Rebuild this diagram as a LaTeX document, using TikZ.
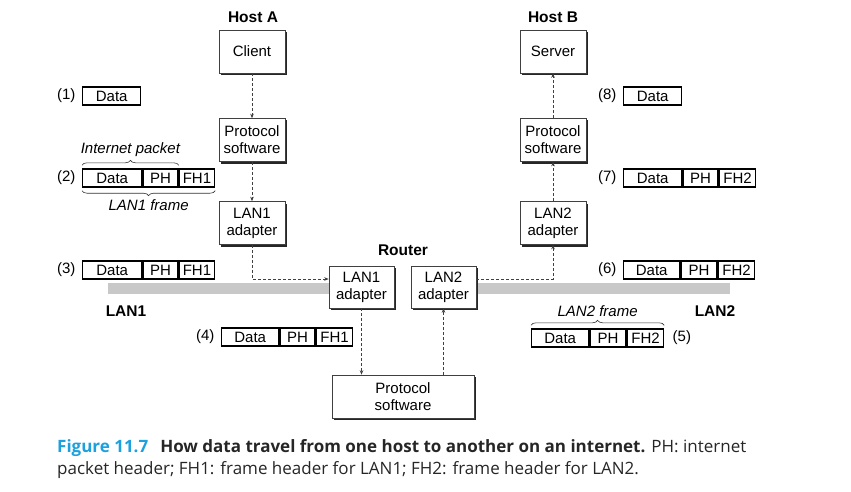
\documentclass[tikz,border=0pt]{standalone}
\usepackage{fontspec}
\setmainfont{Liberation Sans}
\newfontfamily\capfont{Open Sans}
\usetikzlibrary{arrows.meta,shadows,decorations.pathreplacing,calc}
\definecolor{figblue}{RGB}{28,160,222}
\definecolor{bargray}{RGB}{200,200,200}
\begin{document}
\begin{tikzpicture}[x=1pt,y=-1pt,
  every node/.style={font=\fontsize{15}{17}\selectfont},
  box/.style={draw=black!75, line width=0.6pt, fill=white, align=center, inner sep=1pt,
    minimum width=66, minimum height=43,
    drop shadow={shadow xshift=2pt,shadow yshift=-2pt,fill=black!85,opacity=1}},
  cell/.style={draw=black, line width=1.4pt, inner sep=0pt, minimum height=18, anchor=west},
  flow/.style={draw=black!75, line width=0.6pt, dash pattern=on 3pt off 2pt,
    -{Stealth[length=4.5pt,width=3.5pt]}},
  hdr/.style={font=\fontsize{15.5}{17}\selectfont\bfseries},
  brc/.style={draw=black!80, line width=0.6pt, decorate, decoration={brace,amplitude=5pt}},
  lbl/.style={font=\fontsize{15}{17}\selectfont\itshape}
]
\useasboundingbox (0,0) rectangle (851,492);

% LAN bars
\fill[bargray] (108,283) rectangle (329,294);
\fill[bargray] (476,283) rectangle (730,294);
\node[hdr] (lan1lbl) at (126,311) {LAN1};
\node[hdr] (lan2lbl) at (715,311) {LAN2};

% Host A
\node[hdr] (hosta) at (253,17) {Host A};
\node[box] (client) at (252,51.5) {Client};
\node[box] (protoa) at (252,140) {Protocol\\software};
\node[box] (lana) at (252,223) {LAN1\\adapter};

% Host B
\node[hdr] (hostb) at (553,17) {Host B};
\node[box] (server) at (553,51.5) {Server};
\node[box] (protob) at (553,140) {Protocol\\software};
\node[box] (lanb) at (553,223) {LAN2\\adapter};

% Router
\node[hdr] (router) at (403,250) {Router};
\node[box, minimum width=65, minimum height=42] (rlan1) at (361.5,287) {LAN1\\adapter};
\node[box, minimum width=65, minimum height=42] (rlan2) at (443.5,287) {LAN2\\adapter};
\node[box, minimum width=142, minimum height=43] (rproto) at (403,396.5) {Protocol\\software};

% flows
\draw[flow] (client) -- (protoa);
\draw[flow] (protoa) -- (lana);
\draw[flow] (lana.south) |- ([yshift=8pt]rlan1.west);
\draw[flow] (rlan1.south) -- (rlan1.south |- rproto.north);
\draw[flow] (rlan2.south |- rproto.north) -- (rlan2.south);
\draw[flow] ([yshift=8pt]rlan2.east) -| (lanb.south);
\draw[flow] (lanb) -- (protob);
\draw[flow] (protob) -- (server);

% (1)
\node[cell, minimum width=58] (p1d) at (82,96) {Data};
\node[anchor=east] (n1) at ([xshift=-3pt]p1d.west) {(1)};
% (2)
\node[cell, minimum width=59] (p2d) at (82,178) {Data};
\node[cell, minimum width=35] (p2p) at (p2d.east) {PH};
\node[cell, minimum width=35] (p2f) at (p2p.east) {FH1};
\node[anchor=east] (n2) at ([xshift=-3pt]p2d.west) {(2)};
\draw[brc] ([yshift=3pt]p2d.north west) -- ([yshift=3pt]p2p.north east)
  node[midway, above=5pt, lbl] (ipk) {Internet packet};
\draw[brc] ([yshift=-3pt]p2f.south east) -- ([yshift=-3pt]p2d.south west)
  node[midway, below=5pt, lbl] (l1f) {LAN1 frame};
% (3)
\node[cell, minimum width=59] (p3d) at (82,270) {Data};
\node[cell, minimum width=35] (p3p) at (p3d.east) {PH};
\node[cell, minimum width=35] (p3f) at (p3p.east) {FH1};
\node[anchor=east] (n3) at ([xshift=-3pt]p3d.west) {(3)};
% (4)
\node[cell, minimum width=57] (p4d) at (221,337) {Data};
\node[cell, minimum width=35] (p4p) at (p4d.east) {PH};
\node[cell, minimum width=36] (p4f) at (p4p.east) {FH1};
\node[anchor=east] (n4) at ([xshift=-3pt]p4d.west) {(4)};
% (5)
\node[cell, minimum width=57] (p5d) at (531,338) {Data};
\node[cell, minimum width=36] (p5p) at (p5d.east) {PH};
\node[cell, minimum width=36] (p5f) at (p5p.east) {FH2};
\node[anchor=west] (n5) at ([xshift=5pt]p5f.east) {(5)};
\draw[brc] ([yshift=3pt]p5d.north west) -- ([yshift=3pt]p5f.north east)
  node[midway, above=5pt, lbl] (l2f) {LAN2 frame};
% (6)
\node[cell, minimum width=56] (p6d) at (623,270) {Data};
\node[cell, minimum width=36] (p6p) at (p6d.east) {PH};
\node[cell, minimum width=36] (p6f) at (p6p.east) {FH2};
\node[anchor=east] (n6) at ([xshift=-3pt]p6d.west) {(6)};
% (7)
\node[cell, minimum width=58] (p7d) at (623,178) {Data};
\node[cell, minimum width=35] (p7p) at (p7d.east) {PH};
\node[cell, minimum width=36] (p7f) at (p7p.east) {FH2};
\node[anchor=east] (n7) at ([xshift=-3pt]p7d.west) {(7)};
% (8)
\node[cell, minimum width=58] (p8d) at (623,96) {Data};
\node[anchor=east] (n8) at ([xshift=-3pt]p8d.west) {(8)};

% caption
\node[anchor=base west, inner sep=0pt, font=\capfont\fontsize{17}{20}\selectfont] (cap1) at (57,452)
  {{\color{figblue}\bfseries Figure 11.7}\hspace{12pt}{\color{black!85}\bfseries How data travel from one host to another on an internet.} {\color{black!85}PH: internet}};
\node[anchor=base west, inner sep=0pt, font=\capfont\fontsize{17}{20}\selectfont, text=black!85] (cap2) at (57,474)
  {packet header; FH1: frame header for LAN1; FH2: frame header for LAN2.};
\end{tikzpicture}
\end{document}
